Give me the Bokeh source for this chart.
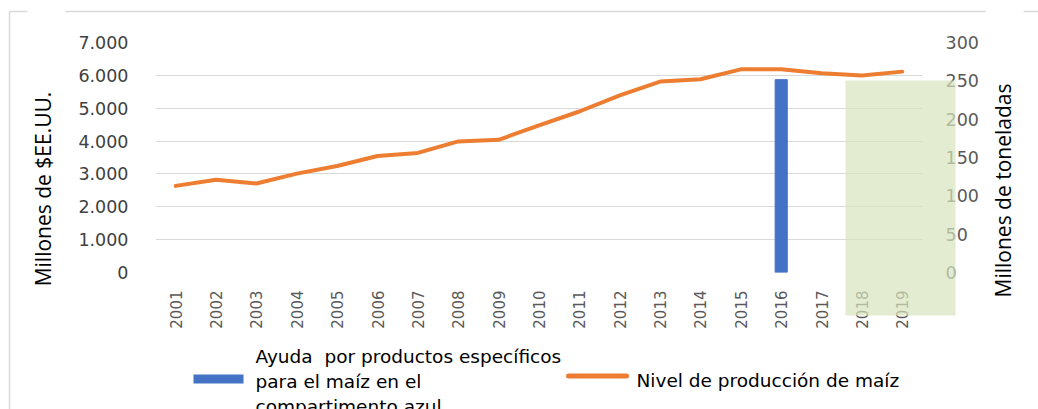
import math
from bokeh.plotting import figure
from bokeh.layouts import column
from bokeh.models import (Range1d, LinearAxis, FactorRange, CustomJSTickFormatter, FixedTicker)
from bokeh.core.properties import value
from bokeh.embed import file_html
from bokeh.resources import INLINE

# ---------------- data ----------------
years = [str(y) for y in range(2001, 2020)]
production = [113, 121, 116, 129, 139, 152, 156, 171, 173, 192, 210, 231, 249, 252, 265, 265, 260, 257, 262]
aid_years = ["2016"]
aid_values = [5870]
left_ticks = [0, 1000, 2000, 3000, 4000, 5000, 6000, 7000]
right_ticks = [0, 50, 100, 150, 200, 250, 300]
left_title = "Millones de $EE.UU."
right_title = "Millones de toneladas"
legend_bar = "Ayuda \u00a0por productos específicos\npara el maíz en el\ncompartimento azul"
legend_line = "Nivel de producción de maíz"

# ---------------- style ----------------
FONT = "DejaVu Sans"
TFONT = "Open Sans"
BAR_COLOR = "#4472C4"
LINE_COLOR = "#ED7D31"
W, H = 1038, 409

p = figure(x_range=FactorRange(factors=years), y_range=Range1d(0, 7000),
           width=W, height=H, min_border_left=155, min_border_right=116,
           min_border_top=42, min_border_bottom=137,
           output_backend="svg", toolbar_location=None)
p.extra_y_ranges = {"right": Range1d(0, 300)}
p.outline_line_color = None
p.xgrid.grid_line_color = None
p.ygrid.grid_line_color = "#d9d9d9"
p.ygrid.grid_line_width = 1

# left axis
ya = p.yaxis[0]
ya.ticker = FixedTicker(ticks=left_ticks)
ya.formatter = CustomJSTickFormatter(code="""
  if (tick >= 1000) { const t = Math.floor(tick/1000); const r = String(tick % 1000).padStart(3,'0'); return t + '.' + r; }
  return String(tick);
""")
ya.axis_line_color = None
ya.major_tick_line_color = None
ya.minor_tick_line_color = None
ya.major_tick_out = 0
ya.minor_tick_out = 0
ya.major_label_standoff = 27
ya.major_label_text_font = FONT
ya.major_label_text_font_size = "17.5px"
ya.major_label_text_color = "#404040"

# right axis
ra = LinearAxis(y_range_name="right", ticker=FixedTicker(ticks=right_ticks))
ra.axis_line_color = None
ra.major_tick_line_color = None
ra.minor_tick_line_color = None
ra.major_tick_out = 0
ra.minor_tick_out = 0
ra.major_label_standoff = 23
ra.major_label_text_font = FONT
ra.major_label_text_font_size = "17.5px"
ra.major_label_text_color = "#595959"
p.add_layout(ra, "right")

# x axis
xa = p.xaxis[0]
xa.axis_line_color = None
xa.major_tick_line_color = None
xa.minor_tick_line_color = None
xa.major_tick_out = 0
xa.minor_tick_out = 0
xa.major_label_orientation = math.pi / 2
xa.major_label_standoff = 18
xa.major_label_text_font = FONT
xa.major_label_text_font_size = "15px"
xa.major_label_text_color = "#595959"

p.vbar(x=aid_years, top=aid_values, width=0.3, color=BAR_COLOR)
p.line(x=years, y=production, y_range_name="right", line_color=LINE_COLOR, line_width=4,
       line_join="round", line_cap="round")

# ------------- annotation layer (titles, legend, shading, chart border) -------------
# pixel-space canvas laid over the chart so that these elements are not clipped to the plot frame
anno = figure(width=W, height=H, toolbar_location=None, output_backend="svg",
              x_range=Range1d(0, W), y_range=Range1d(H, 0),
              x_axis_location=None, y_axis_location=None, min_border=0,
              outline_line_color=None, background_fill_alpha=0, border_fill_alpha=0,
              styles={"position": "absolute", "left": "0px", "top": "0px"})
anno.grid.visible = False
for fig in (p, anno):
    if hasattr(fig, "frame_align"):
        fig.frame_align = False

# chart-area border (top and left, with the gaps of the original)
anno.multi_line(xs=[[9, 27], [65, 985], [1023, W], [9, 9]],
                ys=[[11, 11], [11, 11], [11, 11], [11, H]],
                line_color="#d9d9d9", line_width=1.5)

# axis titles
anno.text(x=[42.5], y=[188.5], text=[left_title], angle=math.pi / 2,
          text_align="center", text_baseline="middle",
          text_font=value(TFONT), text_font_size="21px", text_color="#000000")
anno.text(x=[1002.5], y=[190], text=[right_title], angle=math.pi / 2,
          text_align="center", text_baseline="middle",
          text_font=value(TFONT), text_font_size="21px", text_color="#000000")

# legend
anno.quad(left=[193], right=[243], top=[374], bottom=[383], fill_color=BAR_COLOR, line_color=None)
anno.segment(x0=[568], y0=[375.5], x1=[626], y1=[375.5], line_color=LINE_COLOR, line_width=5,
             line_cap="round")
anno.text(x=[255], y=[381], text=[legend_bar], text_align="left", text_baseline="middle",
          text_font=value(FONT), text_font_size="18.5px", text_color="#000000",
          text_line_height=1.17)
anno.text(x=[636], y=[379.5], text=[legend_line], text_align="left", text_baseline="middle",
          text_font=value(FONT), text_font_size="18.5px", text_color="#000000")

# shaded region (semi-transparent, drawn over the axis labels as in the original)
anno.quad(left=[845], right=[955], top=[80], bottom=[315],
          fill_color="#d7e4bd", fill_alpha=0.7, line_color=None)

root = column(p, anno)
open("out.html", "w").write(file_html(root, INLINE))
